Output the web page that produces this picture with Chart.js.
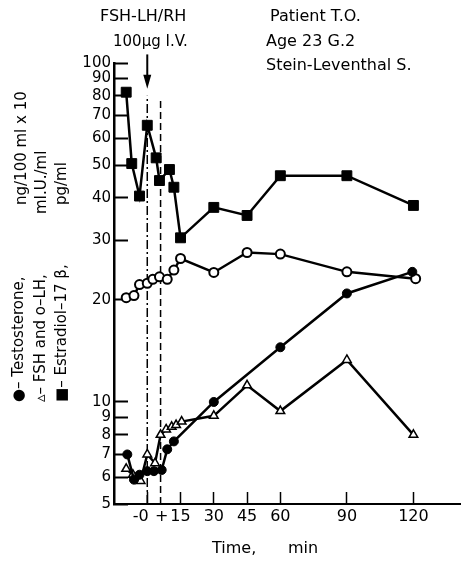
<!DOCTYPE html>
<html>
<head>
<meta charset="utf-8">
<script src="https://cdn.jsdelivr.net/npm/chart.js@4.4.1/dist/chart.umd.min.js"></script>
<style>
  html, body { margin: 0; padding: 0; background: #fff; }
</style>
</head>
<body>
<canvas id="hormoneChart" width="472" height="563"></canvas>
<script>
// time in min, values on log scale
let testoTimes = [-9, -6, -3.5, 0, 3, 6.5, 9, 12, 30, 60, 90, 119.5];
let testoValues = [7.0, 5.9, 6.1, 6.25, 6.25, 6.3, 7.25, 7.65, 10.0, 14.5, 20.9, 24.2];

let fshTimes = [-9.5, -6.5, -3, 0, 3.5, 6, 8.5, 11, 13, 15.5, 30, 45, 60, 90, 120];
let fshValues = [6.35, 6.1, 5.85, 7.0, 6.6, 8.0, 8.3, 8.45, 8.55, 8.75, 9.1, 11.2, 9.4, 13.3, 8.0];

let lhTimes = [-9.5, -6, -3.5, 0, 2.5, 5.5, 9, 12, 15, 30, 45, 60, 90, 121];
let lhValues = [20.3, 20.6, 22.2, 22.4, 23.0, 23.4, 23.0, 24.5, 26.5, 24.1, 27.6, 27.3, 24.2, 23.1];

let e2Times = [-9.5, -7, -3.5, 0, 4, 5.5, 10, 12, 15, 30, 45, 60, 90, 120];
let e2Values = [82, 50.5, 40.5, 65.5, 52.5, 45, 48.5, 43, 30.5, 37.5, 35.5, 46.5, 46.5, 38];

let yTicks = [5, 6, 7, 8, 9, 10, 20, 30, 40, 50, 60, 70, 80, 90, 100];
let xTicks = [-3, 0, 6.5, 15, 30, 45, 60, 90, 120];
let xTickLabels = ['-0', '', '+', '15', '30', '45', '60', '90', '120'];
let labelOnlyTicks = [-3, 6.5];

// injection markers: [time, from value, to value]
let injectionLine = [0, 5, 80];
let stopLine = [6, 5, 78];
let arrow = [0, 106, 84];

function pairs(times, values) {
    return times.map((t, i) => ({ x: t, y: values[i] }));
}

const fontFamily = '"DejaVu Sans"';

const textPlugin = {
    id: 'textPlugin',
    afterDraw(chart) {
        const ctx = chart.ctx;
        const xs = chart.scales.x;
        const ys = chart.scales.y;
        ctx.save();
        ctx.fillStyle = '#000';
        ctx.strokeStyle = '#000';

        // arrow
        let ax = xs.getPixelForValue(arrow[0]);
        let ay1 = ys.getPixelForValue(arrow[1]);
        let ay2 = ys.getPixelForValue(arrow[2]);
        ctx.lineWidth = 2;
        ctx.beginPath();
        ctx.moveTo(ax, ay1);
        ctx.lineTo(ax, ay2 - 10);
        ctx.stroke();
        ctx.beginPath();
        ctx.moveTo(ax - 4, ay2 - 14);
        ctx.lineTo(ax + 4, ay2 - 14);
        ctx.lineTo(ax, ay2);
        ctx.closePath();
        ctx.fill();

        // header texts
        ctx.textAlign = 'left';
        ctx.textBaseline = 'middle';
        let heads = [
            ['FSH-LH/RH', 100, 17, 16],
            ['100\u00B5g I.V.', 113, 42, 15],
            ['Patient T.O.', 270, 17, 16],
            ['Age 23 G.2', 266, 42, 16],
            ['Stein-Leventhal S.', 266, 66, 16]
        ];
        heads.forEach(h => {
            ctx.font = h[3] + 'px ' + fontFamily;
            ctx.fillText(h[0], h[1], h[2]);
        });

        ctx.font = '16px ' + fontFamily;
        ctx.fillText('Time,', 212, 549);
        ctx.fillText('min', 288, 549);

        // rotated y titles
        ctx.font = '15px ' + fontFamily;
        let cols = [
            ['\u25CF\u2013 Testosterone,', 'ng/100 ml x 10', 19, 205, 22],
            ['\u25B5\u2013 FSH and o\u2013LH,', 'mI.U./ml', 41, 214, 42],
            ['\u25A0\u2013 Estradiol\u201317 \u03B2,', 'pg/ml', 62, 205, 62]
        ];
        cols.forEach(c => {
            ctx.save();
            ctx.translate(c[2], 402);
            ctx.rotate(-Math.PI / 2);
            ctx.fillText(c[0], 0, 0);
            ctx.restore();
            ctx.save();
            ctx.translate(c[4], c[3]);
            ctx.rotate(-Math.PI / 2);
            ctx.fillText(c[1], 0, 0);
            ctx.restore();
        });
        ctx.restore();
    }
};

let ctxHormone = document.getElementById('hormoneChart').getContext('2d');

let hormoneChart = new Chart(ctxHormone, {
    type: 'line',
    data: {
        datasets: [{
            label: 'Testosterone',
            data: pairs(testoTimes, testoValues),
            borderColor: '#000',
            borderWidth: 2.5,
            pointStyle: 'circle',
            pointRadius: 4.5,
            pointBackgroundColor: '#000',
            pointBorderColor: '#000',
            pointBorderWidth: 1
        }, {
            label: 'FSH',
            data: pairs(fshTimes, fshValues),
            borderColor: '#000',
            borderWidth: 2.5,
            pointStyle: 'triangle',
            pointRadius: 5,
            pointBackgroundColor: '#fff',
            pointBorderColor: '#000',
            pointBorderWidth: 1.5
        }, {
            label: 'LH',
            data: pairs(lhTimes, lhValues),
            borderColor: '#000',
            borderWidth: 2.5,
            pointStyle: 'circle',
            pointRadius: 4.5,
            pointBackgroundColor: '#fff',
            pointBorderColor: '#000',
            pointBorderWidth: 2
        }, {
            label: 'Estradiol',
            data: pairs(e2Times, e2Values),
            borderColor: '#000',
            borderWidth: 2.5,
            pointStyle: 'rect',
            pointRadius: 7,
            pointBackgroundColor: '#000',
            pointBorderColor: '#000',
            pointBorderWidth: 1
        }, {
            label: 'injection',
            data: [{ x: injectionLine[0], y: injectionLine[1] }, { x: injectionLine[0], y: injectionLine[2] }],
            borderColor: '#000',
            borderWidth: 1.5,
            borderDash: [9, 3, 2, 3],
            pointRadius: 0
        }, {
            label: 'stop',
            data: [{ x: stopLine[0], y: stopLine[1] }, { x: stopLine[0], y: stopLine[2] }],
            borderColor: '#000',
            borderWidth: 1.5,
            borderDash: [7, 4],
            pointRadius: 0
        }]
    },
    options: {
        responsive: false,
        animation: false,
        clip: false,
        layout: {
            padding: { left: 0, top: 63, right: 12, bottom: 0 }
        },
        plugins: {
            legend: { display: false },
            tooltip: { enabled: false }
        },
        scales: {
            x: {
                type: 'linear',
                min: -15,
                max: 141,
                afterFit: function (scale) { scale.height = 59; },
                afterBuildTicks: function (scale) {
                    scale.ticks = xTicks.map(v => ({ value: v }));
                },
                border: { color: '#000', width: 2 },
                grid: {
                    drawOnChartArea: false,
                    tickLength: -12,
                    tickWidth: 1.5,
                    tickColor: function (c) {
                        return c.tick && labelOnlyTicks.includes(c.tick.value) ? 'rgba(0,0,0,0)' : '#000';
                    }
                },
                ticks: {
                    autoSkip: false,
                    maxRotation: 0,
                    padding: 15,
                    color: '#000',
                    font: { family: 'DejaVu Sans', size: 16 },
                    callback: function (value, index) { return xTickLabels[index]; }
                }
            },
            y: {
                type: 'logarithmic',
                min: 5,
                max: 100,
                afterFit: function (scale) { scale.width = 114; },
                afterBuildTicks: function (scale) {
                    scale.ticks = yTicks.map(v => ({ value: v }));
                },
                border: { color: '#000', width: 2.5 },
                grid: {
                    drawOnChartArea: false,
                    tickLength: -14,
                    tickWidth: 2,
                    tickColor: '#000'
                },
                ticks: {
                    autoSkip: false,
                    padding: 17,
                    color: '#000',
                    font: { family: 'DejaVu Sans', size: 15 },
                    callback: function (value) { return String(value); }
                }
            }
        }
    },
    plugins: [textPlugin]
});
</script>
</body>
</html>
